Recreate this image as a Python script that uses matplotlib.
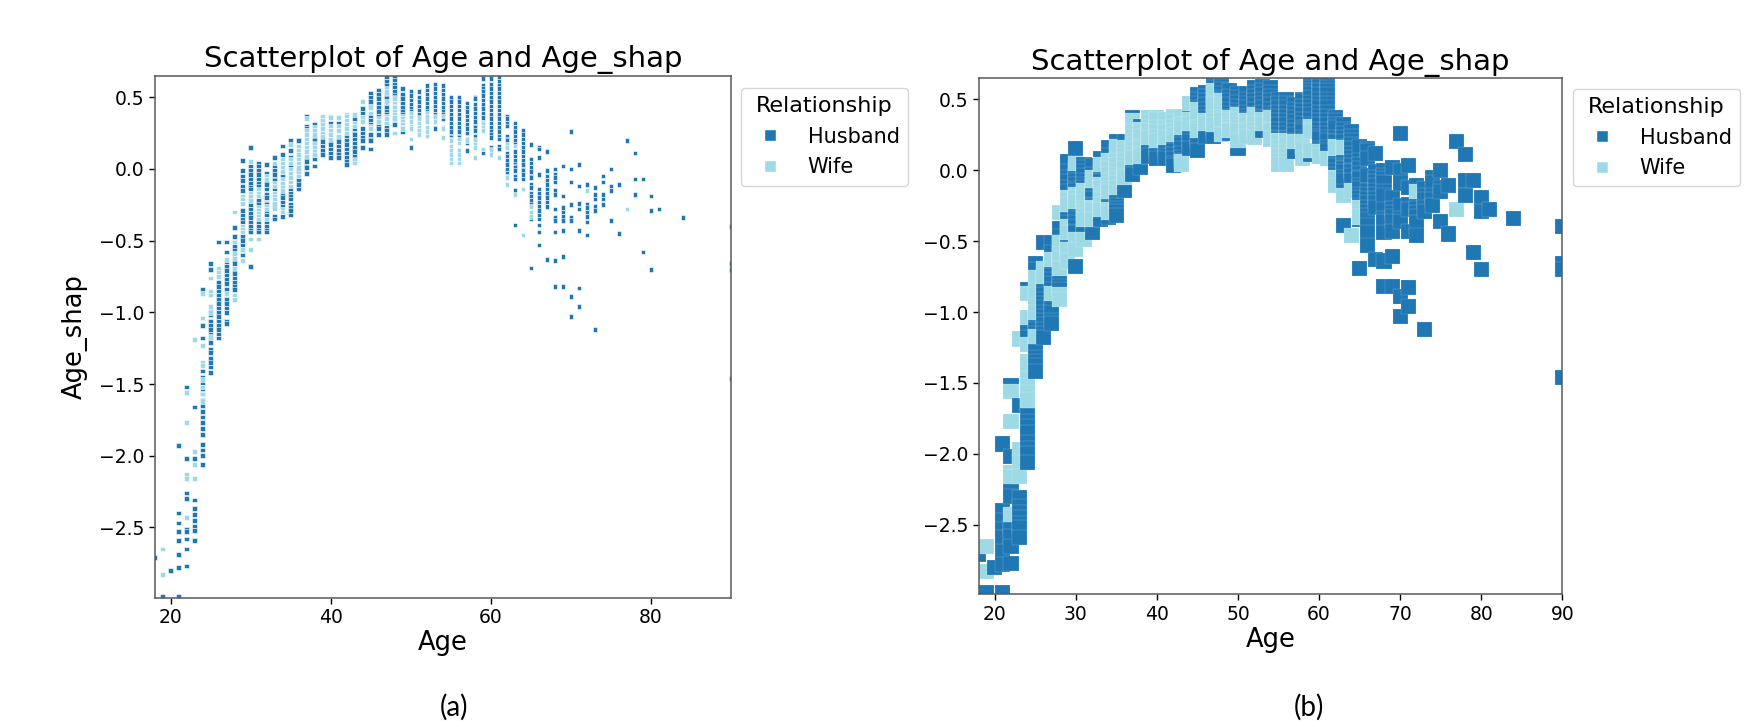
"""Two scatterplots of Age vs Age_shap coloured by Relationship."""
import matplotlib
matplotlib.use('Agg')
import matplotlib.pyplot as plt
from matplotlib.lines import Line2D

# ── data (age -> Age_shap values) ────────────────────────────────────────────
HUSBAND = {
    18: [-2.71],
    19: [-2.98],
    20: [-2.80],
    21: [-1.93, -2.40, -2.47, -2.53, -2.59, -2.69, -2.78, -2.98],
    22: [-1.52, -2.02, -2.26, -2.30, -2.51, -2.53, -2.58, -2.65, -2.77],
    23: [-1.66, -2.02, -2.31, -2.37, -2.41, -2.45, -2.49, -2.52, -2.59],
    24: [-0.84, -1.09, -1.18, -1.41, -1.45, -1.49, -1.53, -1.57, -1.61, -1.65,
         -1.69, -1.73, -1.77, -1.81, -1.85, -1.92, -1.96, -2.00, -2.06],
    25: [-0.66, -0.70, -0.99, -1.02, -1.06, -1.09, -1.12, -1.15, -1.18, -1.21,
         -1.26, -1.28, -1.32, -1.35, -1.38, -1.42],
    26: [-0.51, -0.79, -0.82, -0.85, -0.88, -0.91, -0.94, -0.97, -1.00, -1.03,
         -1.06, -1.09, -1.12, -1.15, -1.18],
    27: [-0.51, -0.58, -0.65, -0.68, -0.71, -0.74, -0.77, -0.80, -0.84, -0.91,
         -0.94, -0.97, -1.00, -1.06, -1.08],
    28: [-0.41, -0.47, -0.51, -0.54, -0.57, -0.60, -0.63, -0.66, -0.70, -0.73,
         -0.76, -0.79, -0.82, -0.84],
    29: [0.06, -0.01, -0.05, -0.08, -0.12, -0.15, -0.29, -0.32, -0.35, -0.37,
         -0.47, -0.50, -0.53, -0.56, -0.60],
    30: [0.15, 0.02, -0.01, -0.04, -0.07, -0.10, -0.13, -0.14, -0.21, -0.25,
         -0.28, -0.31, -0.34, -0.37, -0.40, -0.43, -0.44, -0.68],
    31: [0.04, 0.02, -0.01, -0.04, -0.07, -0.10, -0.12, -0.22, -0.25, -0.37,
         -0.40, -0.43, -0.44],
    32: [0.03, -0.03, -0.08, -0.11, -0.14, -0.18, -0.20, -0.24, -0.25, -0.29,
         -0.32, -0.37, -0.40, -0.43, -0.44],
    33: [0.08, 0.02, -0.01, -0.04, -0.07, -0.08, -0.14, -0.25, -0.26, -0.33, -0.35],
    34: [0.16, 0.10, -0.05, -0.18, -0.20, -0.23, -0.26, -0.33],
    35: [0.20, 0.13, 0.08, 0.02, -0.14, -0.17, -0.19, -0.21, -0.25, -0.27, -0.29, -0.32],
    36: [0.20, 0.00, -0.03, -0.06, -0.08, -0.11, -0.14],
    37: [0.37, 0.30, 0.28, 0.08, 0.05, 0.02, 0.01, -0.03],
    38: [0.31, 0.22, 0.20, 0.18, 0.09, 0.07, 0.02],
    39: [0.33, 0.22, 0.19, 0.16, 0.13, 0.10],
    40: [0.32, 0.20, 0.17, 0.14, 0.11, 0.08],
    41: [0.32, 0.22, 0.19, 0.16, 0.13, 0.10, 0.08],
    42: [0.23, 0.20, 0.17, 0.14, 0.11, 0.08, 0.05, 0.03],
    43: [0.35, 0.28, 0.25, 0.24, 0.21, 0.18, 0.15, 0.12, 0.09, 0.07],
    44: [0.42, 0.39, 0.28, 0.25, 0.22, 0.20, 0.15],
    45: [0.53, 0.50, 0.47, 0.44, 0.37, 0.34, 0.31, 0.24, 0.21, 0.20, 0.14],
    46: [0.55, 0.52, 0.49, 0.46, 0.43, 0.40, 0.37, 0.32, 0.30, 0.28, 0.24],
    47: [0.64, 0.61, 0.58, 0.53, 0.50, 0.49, 0.46, 0.43, 0.40, 0.38, 0.31, 0.29, 0.27, 0.24],
    48: [0.64, 0.62, 0.59, 0.57, 0.54, 0.51, 0.50, 0.35, 0.31],
    49: [0.56, 0.52, 0.49, 0.46, 0.43, 0.40, 0.38, 0.32, 0.26],
    50: [0.54, 0.51, 0.48, 0.45, 0.42, 0.40, 0.38, 0.15],
    51: [0.54, 0.50, 0.47, 0.44, 0.41, 0.38, 0.36, 0.27],
    52: [0.58, 0.55, 0.52, 0.49, 0.46, 0.43, 0.40, 0.35],
    53: [0.59, 0.56, 0.53, 0.50, 0.47, 0.44, 0.41, 0.38, 0.37, 0.28],
    54: [0.58, 0.55, 0.52, 0.49, 0.46, 0.43, 0.40, 0.38, 0.36, 0.35],
    55: [0.50, 0.47, 0.44, 0.41, 0.38, 0.35, 0.32, 0.29, 0.26, 0.23, 0.22],
    56: [0.50, 0.47, 0.44, 0.41, 0.38, 0.35, 0.32, 0.29, 0.26, 0.23, 0.22],
    57: [0.46, 0.43, 0.40, 0.37, 0.34, 0.31, 0.28, 0.25, 0.21, 0.18, 0.13],
    58: [0.50, 0.49, 0.45, 0.42, 0.39, 0.36, 0.33, 0.30, 0.29, 0.27, 0.23, 0.21],
    59: [0.64, 0.63, 0.58, 0.56, 0.54, 0.51, 0.48, 0.45, 0.42, 0.39, 0.36, 0.32, 0.13, 0.11],
    60: [0.64, 0.63, 0.59, 0.56, 0.53, 0.50, 0.47, 0.44, 0.41, 0.38, 0.35, 0.32,
         0.29, 0.26, 0.24, 0.22, 0.15, 0.14],
    61: [0.64, 0.61, 0.58, 0.56, 0.53, 0.50, 0.47, 0.44, 0.41, 0.38, 0.35, 0.32,
         0.29, 0.26, 0.23, 0.21, 0.16, 0.14],
    62: [0.37, 0.35, 0.32, 0.30, 0.23, 0.21, 0.20, 0.11, 0.09, 0.06, 0.03, 0.00, -0.03],
    63: [0.32, 0.29, 0.26, 0.23, 0.20, 0.17, 0.12, 0.09, 0.06, 0.03, 0.02, 0.01,
         -0.01, -0.05, -0.07, -0.15, -0.39],
    64: [0.27, 0.24, 0.21, 0.18, 0.15, 0.12, 0.09, 0.06, 0.03, 0.00, -0.01, -0.04, -0.07],
    65: [0.17, 0.07, 0.04, 0.01, -0.02, -0.05, -0.06, -0.11, -0.13, -0.17, -0.19,
         -0.22, -0.25, -0.35, -0.69],
    66: [0.15, 0.14, 0.08, -0.04, -0.14, -0.17, -0.20, -0.23, -0.26, -0.29, -0.32,
         -0.35, -0.39, -0.44, -0.53],
    67: [0.12, -0.01, -0.05, -0.08, -0.11, -0.14, -0.17, -0.20, -0.23, -0.26, -0.63],
    68: [0.00, -0.04, -0.06, -0.09, -0.15, -0.18, -0.28, -0.34, -0.36, -0.44, -0.64, -0.82],
    69: [0.02, -0.19, -0.27, -0.30, -0.33, -0.36, -0.43, -0.61, -0.82],
    70: [0.26, 0.00, -0.09, -0.25, -0.34, -0.36, -0.89, -1.03],
    71: [0.03, -0.12, -0.24, -0.28, -0.43, -0.83, -0.96],
    72: [-0.11, -0.25, -0.27, -0.30, -0.33, -0.37, -0.46],
    73: [-0.13, -0.18, -0.21, -0.26, -0.29, -1.12],
    74: [-0.05, -0.09, -0.18, -0.21, -0.25],
    75: [0.00, -0.12, -0.15, -0.36],
    76: [-0.11, -0.45],
    77: [0.20],
    78: [0.11, -0.07, -0.18],
    79: [-0.07, -0.58],
    80: [-0.19, -0.29, -0.70],
    81: [-0.28],
    84: [-0.34],
    90: [-0.40, -0.66, -0.70, -1.46],
}

WIFE = {
    19: [-2.65, -2.83],
    22: [-1.56, -1.77, -2.13, -2.16, -2.43],
    23: [-1.19, -1.97, -2.06, -2.16],
    24: [-0.87, -1.04, -1.23, -1.35, -1.37, -1.47, -1.52, -1.57, -1.62],
    25: [-0.76, -0.85, -0.88, -0.96, -1.00, -1.17],
    26: [-0.69, -0.72, -0.75],
    27: [-0.63, -0.87],
    28: [-0.30, -0.51, -0.59, -0.62, -0.69, -0.88, -0.91],
    29: [-0.19, -0.21, -0.24, -0.40, -0.42, -0.44, -0.56, -0.64],
    30: [0.05, -0.17, -0.19, -0.22, -0.49, -0.56],
    31: [-0.14, -0.17, -0.19, -0.27, -0.29, -0.31, -0.33, -0.35, -0.49],
    32: [-0.05, -0.07, -0.26, -0.28, -0.35],
    33: [0.04, -0.10, -0.12, -0.17, -0.19, -0.21, -0.24, -0.28],
    34: [0.07, 0.04, 0.01, -0.02, -0.07, -0.10, -0.13, -0.15, -0.28, -0.30],
    35: [0.17, 0.07, 0.04, 0.00, -0.03, -0.06, -0.09, -0.12],
    36: [0.16, 0.13, 0.10, 0.07, 0.04, 0.01, -0.04, -0.05],
    37: [0.35, 0.27, 0.24, 0.21, 0.18, 0.15, 0.12, 0.09],
    38: [0.29, 0.27, 0.24, 0.17, 0.15, 0.12, 0.10],
    39: [0.37, 0.34, 0.31, 0.28, 0.25, 0.23],
    40: [0.37, 0.36, 0.30, 0.27, 0.24, 0.21],
    41: [0.36, 0.30, 0.27, 0.23],
    42: [0.38, 0.37, 0.34, 0.31, 0.28, 0.25],
    43: [0.38, 0.32, 0.30, 0.06, 0.04],
    44: [0.47, 0.36, 0.33],
    45: [0.43, 0.39, 0.30, 0.28],
    46: [0.35, 0.33],
    47: [0.56, 0.54, 0.47, 0.37, 0.35, 0.32],
    48: [0.49, 0.46, 0.44, 0.43, 0.40, 0.38, 0.36, 0.25],
    49: [0.37, 0.35, 0.33, 0.31, 0.29, 0.28],
    50: [0.39, 0.36, 0.33, 0.30, 0.28, 0.21],
    51: [0.35, 0.32, 0.29, 0.27, 0.24],
    52: [0.39, 0.37, 0.33, 0.29, 0.26, 0.23],
    53: [0.36, 0.33],
    54: [0.37, 0.29, 0.28, 0.22],
    55: [0.21, 0.20, 0.16, 0.13, 0.10, 0.07, 0.04],
    56: [0.21, 0.18, 0.13, 0.10, 0.07, 0.04],
    57: [0.20],
    58: [0.20, 0.17, 0.15, 0.08],
    59: [0.31, 0.29, 0.27, 0.14],
    60: [0.13, 0.10],
    61: [0.08],
    62: [0.17, 0.15, -0.05, -0.06, -0.11],
    63: [0.16, -0.18],
    64: [-0.14, -0.46],
    65: [-0.26, -0.30, -0.33],
    72: [-0.15],
    77: [-0.28],
}

LABELS = ['Husband', 'Wife']
COLORS = {'Husband': '#1f77b4', 'Wife': '#9edae5'}
TITLE = 'Scatterplot of Age and Age_shap'
XLIM = (18, 90)
YLIM = (-2.99, 0.65)
YTICKS = [-2.5, -2.0, -1.5, -1.0, -0.5, 0.0, 0.5]

# flatten in age order (husband then wife per age), like a mixed dataframe
ages, shaps, cols = [], [], []
for age in sorted(set(HUSBAND) | set(WIFE)):
    for rel, table in (('Husband', HUSBAND), ('Wife', WIFE)):
        for v in table.get(age, []):
            ages.append(age)
            shaps.append(v)
            cols.append(COLORS[rel])

fig = plt.figure(figsize=(17.6, 7.21), dpi=100)
ax_a = fig.add_axes([0.0879, 0.1710, 0.3274, 0.7240])
ax_b = fig.add_axes([0.5560, 0.1757, 0.3317, 0.7161])

# axis, marker area, edge width, xticks, ylabel?, legend anchor
panels = [
    (ax_a, 11, 0.4, [20, 40, 60, 80], True, (1.0174, 0.9764)),
    (ax_b, 118, 0.12, [20, 30, 40, 50, 60, 70, 80, 90], False, (1.018, 0.979)),
]

for ax, size, edge_lw, xticks, with_ylabel, anchor in panels:
    ax.scatter(ages, shaps, c=cols, marker='s', s=size,
               edgecolors='white', linewidths=edge_lw)
    ax.set_xlim(*XLIM)
    ax.set_ylim(*YLIM)
    ax.set_xticks(xticks)
    ax.set_yticks(YTICKS)
    ax.tick_params(labelsize=13.5, length=4, width=1)
    for sp in ax.spines.values():
        sp.set_color('0.35')
        sp.set_linewidth(1.1)
    ax.set_title(TITLE, fontsize=21)
    ax.set_xlabel('Age', fontsize=18.5, labelpad=2)
    if with_ylabel:
        ax.set_ylabel('Age_shap', fontsize=18.5, labelpad=8)

    handles = [Line2D([], [], marker='s', ls='', color=COLORS[l],
                      markeredgecolor='white', markersize=9) for l in LABELS]
    ax.legend(handles, LABELS, title='Relationship', loc='upper left',
              bbox_to_anchor=anchor, borderaxespad=0,
              fontsize=15, title_fontsize=16)

fig.text(454 / 1760, 1 - 707 / 721, '(a)', ha='center', va='center',
         fontsize=20, family=['Lato', 'DejaVu Sans'])
fig.text(1309 / 1760, 1 - 707 / 721, '(b)', ha='center', va='center',
         fontsize=20, family=['Lato', 'DejaVu Sans'])

fig.savefig('out.png', dpi=100)
print("out.png saved")
